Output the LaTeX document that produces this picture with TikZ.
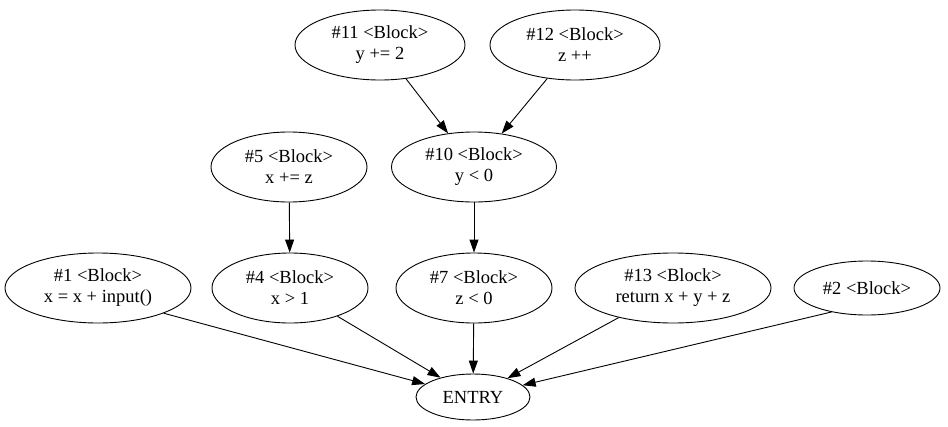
\documentclass[tikz,border=0pt]{standalone}
\usepackage{fontspec}
\setmainfont{Liberation Serif}
\usetikzlibrary{shapes.geometric,arrows.meta}

\tikzset{
  blk/.style={ellipse,draw,line width=0.9pt,inner sep=0pt,minimum height=70pt,
    align=center,font=\fontsize{18.5}{21}\selectfont},
  edge/.style={draw,line width=0.9pt,-{Triangle[length=13pt,width=9pt]}}
}

\begin{document}
\begin{tikzpicture}[x=1pt,y=-1pt]
        \useasboundingbox (0,0) rectangle (948,426);

        \node[blk,minimum width=170pt] (b11) at (380,45) {\#11 <Block>\\y += 2};
        \node[blk,minimum width=170pt] (b12) at (575,45) {\#12 <Block>\\z ++};
        \node[blk,minimum width=156pt] (b5) at (289,167) {\#5 <Block>\\x += z};
        \node[blk,minimum width=165pt] (b10) at (474,167) {\#10 <Block>\\y < 0};
        \node[blk,minimum width=186pt] (b1) at (98,288) {\#1 <Block>\\x = x + input()};
        \node[blk,minimum width=156pt] (b4) at (290,288) {\#4 <Block>\\x > 1};
        \node[blk,minimum width=156pt] (b7) at (474,288) {\#7 <Block>\\z < 0};
        \node[blk,minimum width=196pt] (b13) at (673,288) {\#13 <Block>\\return x + y + z};
        \node[blk,minimum width=146pt,minimum height=54pt] (b2) at (867,288) {\#2 <Block>};
        \node[blk,minimum width=114pt,minimum height=46pt] (entry) at (473,397) {ENTRY};

        \draw[edge] (b11) -- (b10);
        \draw[edge] (b12) -- (b10);
        \draw[edge] (b5) -- (b4);
        \draw[edge] (b10) -- (b7);
        \draw[edge] (b1.339) -- (entry);
        \draw[edge] (b2.214) -- (entry);
        \foreach \n in {b4,b7,b13} {
          \draw[edge] (\n) -- (entry);
        }
      \end{tikzpicture}
\end{document}
